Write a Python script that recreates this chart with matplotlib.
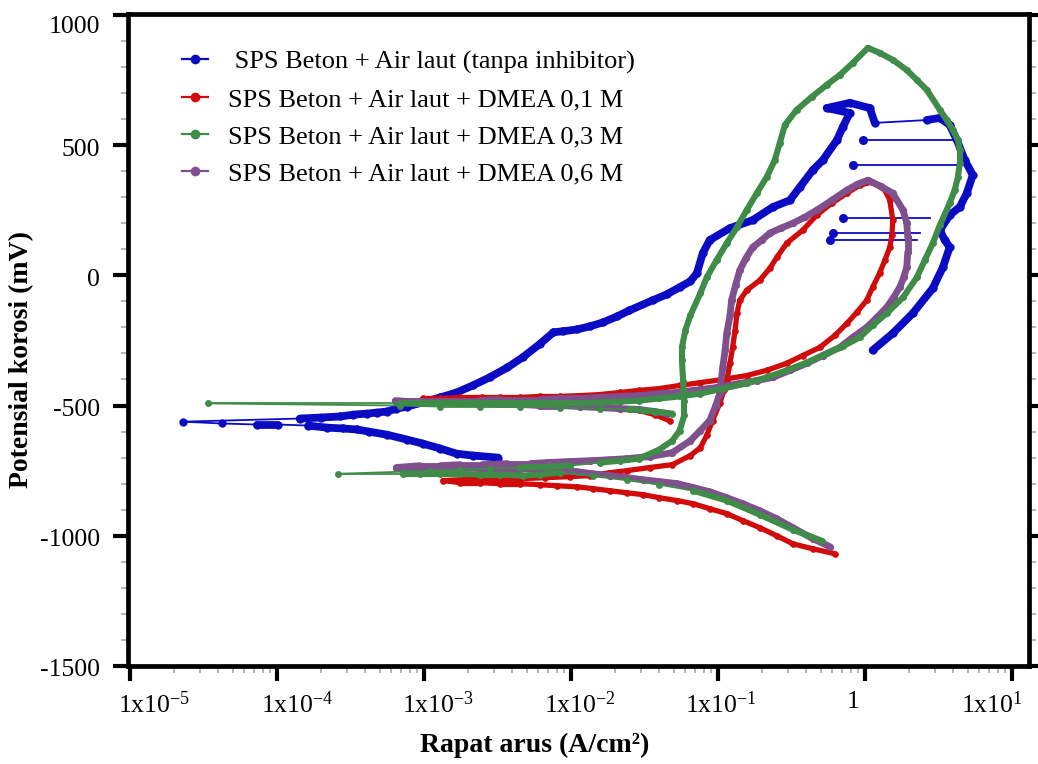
import numpy as np
import matplotlib
matplotlib.use("Agg")
import matplotlib.pyplot as plt
import matplotlib.transforms as mtransforms
from matplotlib.collections import LineCollection
from matplotlib.lines import Line2D
from matplotlib.ticker import FixedLocator, LogLocator, MultipleLocator, NullFormatter

plt.rcParams['font.family'] = ['Liberation Serif', 'DejaVu Serif']
plt.rcParams['mathtext.fontset'] = 'custom'
plt.rcParams['mathtext.rm'] = 'Liberation Serif'
plt.rcParams['mathtext.it'] = 'Liberation Serif:italic'
plt.rcParams['mathtext.bf'] = 'Liberation Serif:bold'
plt.rcParams['axes.unicode_minus'] = False

# ---------------- data (current density A/cm2, potential mV) ----------------
series_labels = [" SPS Beton + Air laut (tanpa inhibitor)",
                 "SPS Beton + Air laut + DMEA 0,1 M",
                 "SPS Beton + Air laut + DMEA 0,3 M",
                 "SPS Beton + Air laut + DMEA 0,6 M"]

blank_current = [3.2e-3, 2.15e-3, 1.67e-3, 1.29e-3, 9.8e-4, 7.7e-4, 5.6e-4, 4.2e-4, 3.5e-4, 2.8e-4,
                 2.2e-4, 1.63e-4, 1.02e-4, 7.3e-5, 4.2e-5, 2.3e-5,
                 1.43e-4, 2.0e-4, 2.7e-4, 3.3e-4, 4.1e-4, 4.8e-4, 5.6e-4, 6.5e-4, 7.7e-4, 9.8e-4,
                 1.29e-3, 1.67e-3, 2.15e-3, 2.8e-3, 3.7e-3, 4.7e-3, 6.2e-3, 7.6e-3, 8.8e-3, 1.10e-2,
                 1.35e-2, 1.65e-2, 2.06e-2, 2.5e-2, 3.6e-2, 4.5e-2, 5.5e-2, 6.5e-2, 7.2e-2, 7.9e-2,
                 8.8e-2, 0.121, 0.173, 0.237, 0.309, 0.361, 0.443, 0.518, 0.646, 0.708,
                 0.791, 0.551, 0.791, 1.08, 1.17, 2.64,
                 3.24, 3.78, 4.23, 4.79, 5.43, 4.94, 4.43, 3.78, 3.24, 3.50,
                 3.78, 3.40, 2.90, 2.12, 1.55, 1.13]
blank_potential = [-700, -692, -685, -665, -646, -631, -612, -600, -592, -588,
                   -585, -577, -573, -573, -569, -562,
                   -550, -546, -542, -535, -531, -527, -523, -512, -504, -488,
                   -469, -450, -423, -392, -354, -315, -262, -219, -215, -208,
                   -196, -181, -158, -135, -96, -73, -46, -23, 8, 85,
                   135, 181, 212, 262, 288, 338, 404, 442, 519, 569,
                   623, 642, 662, 642, 585, 596,
                   604, 577, 519, 442, 385, 315, 262, 231, 173, 135,
                   108, 31, -50, -146, -223, -288]
# horizontal current jumps of the blank sample
blank_jump_potential = [519, 423, 219, 162, 135]
blank_jump_low = [0.968, 0.828, 0.708, 0.605, 0.578]
blank_jump_high = [4.09, 4.79, 2.77, 2.37, 2.26]

dmea01_current = [0.625, 0.443, 0.324, 0.252, 0.193, 0.148, 0.115, 0.088, 0.068, 0.053,
                  0.040, 0.0309, 0.024, 0.0184, 0.0141, 0.0110, 0.0080, 0.0062, 0.0045, 0.0033,
                  0.0024, 0.00176, 0.00135,
                  0.00176, 0.0024, 0.0033, 0.0045, 0.00665, 0.0098, 0.0135, 0.0184, 0.024, 0.0344,
                  0.049, 0.065, 0.076, 0.084, 0.092, 0.103, 0.110, 0.115, 0.121, 0.126,
                  0.131, 0.135, 0.141, 0.157, 0.193, 0.226, 0.252, 0.294, 0.378, 0.471,
                  0.597, 0.755, 0.925, 1.12,
                  1.37, 1.48, 1.55, 1.53, 1.48, 1.37, 1.26, 1.13, 1.03, 0.883,
                  0.755, 0.625, 0.494, 0.378, 0.294, 0.215, 0.157, 0.108, 0.076, 0.055,
                  0.040, 0.029, 0.0215, 0.0157, 0.0115, 0.0084, 0.0062, 0.0045, 0.0033, 0.0025,
                  0.00176, 0.00129, 0.00098,
                  0.00129, 0.00176, 0.0025, 0.00385, 0.0062, 0.0098, 0.0157, 0.0215, 0.029, 0.0372,
                  0.047]
dmea01_potential = [-1069, -1050, -1031, -1000, -969, -942, -915, -896, -877, -865,
                    -854, -842, -835, -827, -819, -812, -808, -804, -800, -800,
                    -796, -796, -788,
                    -785, -781, -781, -781, -777, -773, -769, -758, -750, -738,
                    -727, -692, -662, -615, -558, -492, -442, -404, -338, -277,
                    -212, -146, -96, -58, -19, 27, 69, 123, 173, 231,
                    277, 315, 346, 358,
                    327, 288, 212, 154, 108, 58, 8, -46, -96, -142,
                    -185, -231, -277, -308, -338, -365, -385, -400, -412, -423,
                    -435, -442, -450, -458, -462, -465, -465, -469, -469, -469,
                    -469, -473, -473,
                    -481, -485, -485, -488, -492, -496, -504, -512, -519, -535,
                    -558]

dmea03_current = [0.509, 0.324, 0.193, 0.115, 0.068, 0.040, 0.024, 0.0141, 0.0084, 0.0062,
                  0.0047, 0.0033, 0.0024, 0.00176, 0.00129, 0.00094, 0.00072, 0.00026,
                  0.00072, 0.0011, 0.00176, 0.0028, 0.0045, 0.00665, 0.0098, 0.0157, 0.0215, 0.029,
                  0.040, 0.049, 0.055, 0.059, 0.059, 0.058, 0.057, 0.057, 0.060, 0.065,
                  0.076, 0.084, 0.098, 0.115, 0.135, 0.157, 0.184, 0.215, 0.244, 0.264,
                  0.286, 0.344, 0.436, 0.551, 0.676, 0.828, 1.05,
                  1.26, 1.55, 1.93, 2.26, 2.64, 3.24, 3.61, 3.97, 4.30, 4.43,
                  4.43, 4.30, 4.09, 3.78, 3.24, 2.90, 2.56, 2.26, 1.82, 1.41,
                  1.13, 0.925, 0.708, 0.551, 0.403, 0.294, 0.215, 0.157, 0.108, 0.076,
                  0.055, 0.040, 0.029, 0.0215, 0.0157, 0.0115, 0.0084, 0.0062, 0.0045, 0.0033,
                  0.0024, 0.00176, 0.00129, 0.00094, 0.00069, 3.4e-5,
                  0.00069, 0.00129, 0.0024, 0.0045, 0.0084, 0.0157, 0.025, 0.0372, 0.049]
dmea03_potential = [-1019, -977, -919, -865, -827, -804, -785, -769, -758, -765,
                    -769, -765, -765, -762, -762, -762, -762, -762,
                    -754, -750, -746, -742, -738, -735, -731, -719, -712, -704,
                    -669, -635, -596, -538, -481, -404, -327, -277, -212, -154,
                    -69, -8, 58, 123, 185, 250, 315, 377, 442, 508,
                    577, 635, 685, 731, 769, 815, 873,
                    854, 827, 788, 750, 712, 635, 596, 558, 519, 481,
                    431, 377, 327, 277, 192, 123, 58, -8, -85, -146,
                    -192, -238, -273, -300, -335, -365, -392, -415, -435, -454,
                    -465, -473, -481, -485, -488, -492, -492, -492, -492, -492,
                    -492, -492, -492, -492, -492, -492,
                    -500, -504, -504, -504, -508, -512, -515, -523, -531]

dmea06_current = [0.578, 0.443, 0.324, 0.252, 0.193, 0.148, 0.115, 0.088, 0.068, 0.053,
                  0.040, 0.0309, 0.024, 0.0184, 0.0141, 0.0110, 0.0084, 0.0062, 0.0045, 0.0033,
                  0.0024, 0.00176, 0.00129, 0.00094, 0.00065,
                  0.00094, 0.00129, 0.00176, 0.0025, 0.0037, 0.0053, 0.0069, 0.0098, 0.0135, 0.0184,
                  0.024, 0.0344, 0.049, 0.065, 0.076, 0.088, 0.0968, 0.103, 0.108, 0.112,
                  0.115, 0.121, 0.124, 0.132, 0.141, 0.155, 0.173, 0.199, 0.226, 0.269,
                  0.324, 0.391, 0.471, 0.597, 0.755, 0.895, 1.05,
                  1.28, 1.55, 1.82, 1.93, 1.96, 1.96, 1.93, 1.84, 1.73, 1.57,
                  1.41, 1.21, 1.03, 0.828, 0.676, 0.518, 0.403, 0.309, 0.237, 0.184,
                  0.141, 0.098, 0.068, 0.053, 0.040, 0.029, 0.0215, 0.0157, 0.0115, 0.0084,
                  0.0062, 0.0045, 0.0033, 0.0024, 0.00176, 0.00129, 0.00094, 0.00064,
                  0.00094, 0.00129, 0.00176, 0.0024, 0.0033, 0.0045, 0.0062, 0.0084, 0.0115, 0.0157,
                  0.0215, 0.029, 0.0372, 0.045]
dmea06_potential = [-1042, -1011, -969, -935, -904, -877, -854, -831, -815, -800,
                    -792, -785, -777, -769, -762, -754, -750, -746, -742, -742,
                    -742, -738, -738, -738, -738,
                    -731, -731, -727, -727, -723, -723, -719, -715, -712, -708,
                    -704, -696, -681, -635, -596, -558, -500, -454, -354, -288,
                    -223, -154, -96, -38, 19, 65, 108, 135, 162, 181,
                    200, 223, 250, 288, 327, 350, 365,
                    342, 315, 250, 200, 146, 88, 31, -8, -46, -85,
                    -123, -162, -200, -238, -277, -308, -338, -365, -392, -404,
                    -415, -431, -442, -450, -454, -462, -465, -469, -473, -473,
                    -477, -477, -477, -481, -481, -481, -481, -481,
                    -488, -488, -492, -492, -496, -496, -500, -500, -504, -508,
                    -512, -515, -523, -531]

x_tick_values = [1e-5, 1e-4, 1e-3, 1e-2, 1e-1, 1, 1e1]
x_tick_labels = [r'$\mathregular{1x10^{-5}}$', r'$\mathregular{1x10^{-4}}$',
                 r'$\mathregular{1x10^{-3}}$', r'$\mathregular{1x10^{-2}}$',
                 r'$\mathregular{1x10^{-1}}$', '1', r'$\mathregular{1x10^{1}}$']
y_tick_values = [-1500, -1000, -500, 0, 500, 1000]

# ---------------- styling ----------------
C_BLUE = '#0b0bc4'
C_RED = '#d10a0a'
C_GREEN = '#3e8c48'
C_PURPLE = '#7f4f8e'
x_label_shift_px = [24, 20, 14, 9, 3, -12, -20]
y_label_shift_px = [-2, -2, -2, -2, -2, -10]

W, H = 1038, 764
fig = plt.figure(figsize=(W / 100, H / 100), dpi=100)
ax = fig.add_axes([128 / W, 1 - 666 / H, 901 / W, (666 - 13.5) / H])
ax.set_xscale('log')
ax.set_xlim(9.69e-6, 13.1)
ax.set_ylim(-1500, 1005)


def draw_curve(cur, pot, color, lw, ms, z):
    cur = np.asarray(cur, dtype=float)
    pot = np.asarray(pot, dtype=float)
    pts = np.column_stack([cur, pot])
    segs = np.stack([pts[:-1], pts[1:]], axis=1)
    dL = np.abs(np.diff(np.log10(cur)))
    dE = np.abs(np.diff(pot))
    thin = (dL > 0.18) & (dE < 30)
    widths = np.where(thin, 1.3, lw)
    lc = LineCollection(segs, linewidths=widths, colors=color,
                        capstyle='round', joinstyle='round', zorder=z)
    ax.add_collection(lc, autolim=False)
    ax.plot(cur, pot, 'o', ms=ms, color=color, mew=0, zorder=z)


draw_curve(blank_current, blank_potential, C_BLUE, 5.6, 6.0, 2)
for e, lo, hi in zip(blank_jump_potential, blank_jump_low, blank_jump_high):
    ax.plot([lo, hi], [e, e], '-', color=C_BLUE, lw=1.3, zorder=2)
    ax.plot([lo], [e], 'o', color=C_BLUE, ms=6.5, mew=0, zorder=2)
draw_curve(dmea01_current, dmea01_potential, C_RED, 3.8, 4.8, 3)
draw_curve(dmea06_current, dmea06_potential, C_PURPLE, 4.9, 5.2, 4)
draw_curve(dmea03_current, dmea03_potential, C_GREEN, 4.4, 5.0, 5)

# axes styling
for side in ['left', 'right', 'top', 'bottom']:
    ax.spines[side].set_linewidth(3.4)
ax.xaxis.set_major_locator(FixedLocator(x_tick_values))
ax.set_xticklabels(x_tick_labels)
ax.xaxis.set_minor_locator(LogLocator(base=10, subs=np.arange(2, 10), numticks=20))
ax.xaxis.set_minor_formatter(NullFormatter())
ax.yaxis.set_major_locator(FixedLocator(y_tick_values))
ax.set_yticklabels([str(v) for v in y_tick_values])
ax.yaxis.set_minor_locator(MultipleLocator(100))
ax.tick_params(which='major', direction='out', length=11, width=3.0, labelsize=18.5,
               left=True, right=True, top=False, bottom=True)
ax.tick_params(axis='x', which='major', pad=7)
ax.tick_params(axis='y', which='major', pad=9)
ax.tick_params(which='minor', direction='out', length=5, width=1.3, color='#b0b0b0',
               left=True, right=True, top=False, bottom=True)

for lab, dx in zip(ax.get_xticklabels(), x_label_shift_px):
    lab.set_transform(lab.get_transform() +
                      mtransforms.ScaledTranslation(dx / 100, 0, fig.dpi_scale_trans))
for lab, dy in zip(ax.get_yticklabels(), y_label_shift_px):
    lab.set_transform(lab.get_transform() +
                      mtransforms.ScaledTranslation(0, dy / 100, fig.dpi_scale_trans))

fig.text(22 / W, 1 - 360 / H, 'Potensial korosi (mV)', rotation=90, ha='center', va='center',
         fontsize=20, fontweight='bold')
fig.text(535 / W, 1 - 745 / H, 'Rapat arus (A/cm\u00b2)', ha='center', va='center',
         fontsize=20, fontweight='bold')

handles = [Line2D([], [], color=c, lw=1.6, marker='o', ms=7, mew=0)
           for c in [C_BLUE, C_RED, C_GREEN, C_PURPLE]]
ax.legend(handles, series_labels, loc='upper left',
          bbox_to_anchor=((182 - 128) / 901, (666 - 50) / 652.5),
          frameon=False, fontsize=19, borderpad=0, borderaxespad=0,
          handlelength=1.0, handletextpad=0.75, labelspacing=0.52)

fig.savefig('out.png', dpi=100, facecolor='white')
